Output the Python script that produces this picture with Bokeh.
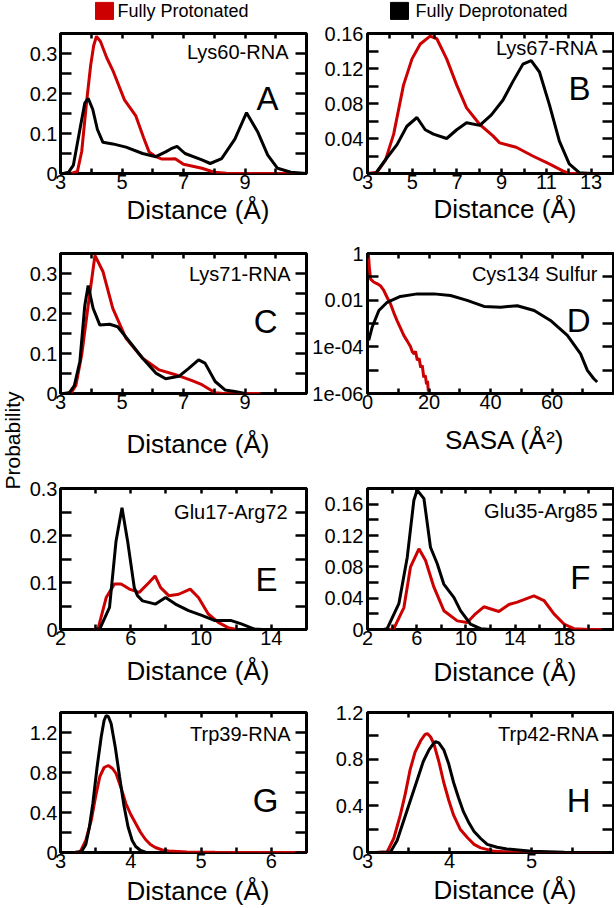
import math
from bokeh.plotting import figure
from bokeh.layouts import row, column
from bokeh.models import Range1d, FixedTicker, LinearAxis, LogAxis, Label, CustomLabelingPolicy
from bokeh.core.properties import value
from bokeh.embed import file_html
from bokeh.resources import INLINE

FONT = "Liberation Sans"
RED = "#cc0000"
BLACK = "#000000"

legend_labels = ["Fully Protonated", "Fully Deprotonated"]
y_title = "Probability"

# ---------------- data ----------------
# A  Lys60-RNA
a_red_x = [3.35, 3.55, 3.69, 3.85, 3.98, 4.08, 4.17, 4.3, 4.5, 4.7, 5.08, 5.45, 5.7, 5.88, 6.1, 6.3, 6.53, 6.73, 7.0, 7.3, 7.6, 8.0, 8.4, 9.0, 11.0]
a_red_y = [0.0, 0.005, 0.055, 0.18, 0.27, 0.32, 0.343, 0.33, 0.29, 0.258, 0.184, 0.144, 0.09, 0.054, 0.042, 0.036, 0.036, 0.037, 0.023, 0.018, 0.013, 0.003, 0.0005, 0.0, 0.0]
a_blk_x = [3.1, 3.26, 3.42, 3.63, 3.79, 3.9, 4.05, 4.2, 4.38, 4.7, 5.13, 5.67, 6.1, 6.42, 6.6, 6.79, 7.05, 7.6, 7.87, 8.24, 8.67, 9.05, 9.42, 9.74, 10.06, 10.49, 11.0]
a_blk_y = [0.0, 0.003, 0.021, 0.11, 0.176, 0.188, 0.16, 0.11, 0.078, 0.074, 0.066, 0.05, 0.042, 0.054, 0.062, 0.068, 0.05, 0.034, 0.025, 0.037, 0.086, 0.152, 0.103, 0.046, 0.013, 0.003, 0.0]

# B  Lys67-RNA
b_red_x = [3.0, 3.43, 3.8, 4.17, 4.61, 4.99, 5.36, 5.8, 6.1, 6.54, 6.99, 7.43, 8.02, 8.61, 8.91, 9.65, 10.39, 11.13, 11.73, 12.0, 14.0]
b_red_y = [0.0, 0.0015, 0.015, 0.045, 0.101, 0.131, 0.148, 0.157, 0.154, 0.131, 0.101, 0.075, 0.056, 0.043, 0.035, 0.030, 0.020, 0.011, 0.003, 0.0, 0.0]
b_blk_x = [3.0, 3.36, 3.87, 4.32, 4.76, 5.21, 5.58, 5.95, 6.54, 6.99, 7.43, 8.02, 8.54, 9.06, 9.5, 9.95, 10.32, 10.69, 11.13, 11.58, 12.02, 12.47, 13.0, 14.0]
b_blk_y = [0.0, 0.0, 0.018, 0.033, 0.054, 0.064, 0.050, 0.045, 0.040, 0.050, 0.058, 0.055, 0.067, 0.084, 0.105, 0.125, 0.129, 0.116, 0.079, 0.037, 0.011, 0.001, 0.0, 0.0]

# C  Lys71-RNA
c_red_x = [3.2, 3.36, 3.5, 3.69, 3.9, 4.12, 4.38, 4.7, 5.13, 5.67, 6.21, 6.74, 7.28, 7.6, 8.03, 8.3, 9.5]
c_red_y = [0.0, 0.003, 0.02, 0.097, 0.22, 0.345, 0.305, 0.213, 0.138, 0.088, 0.059, 0.047, 0.032, 0.022, 0.002, 0.0, 0.0]
c_blk_x = [3.1, 3.29, 3.45, 3.63, 3.79, 3.9, 4.06, 4.28, 4.6, 4.86, 5.24, 5.67, 6.1, 6.42, 6.85, 7.17, 7.49, 7.7, 8.03, 8.35, 8.67, 9.0]
c_blk_y = [0.0, 0.002, 0.02, 0.08, 0.22, 0.27, 0.213, 0.171, 0.173, 0.167, 0.13, 0.088, 0.051, 0.037, 0.043, 0.063, 0.084, 0.076, 0.03, 0.009, 0.005, 0.0]

# D  Cys134 Sulfur (SASA, log probability)
d_red_x = [0.3, 0.6, 1.0, 2.0, 3.2, 4.3, 5.3, 6.4, 7.5, 8.6, 9.65, 10.7, 11.8, 12.9, 14.0, 14.6, 15.2, 15.6, 16.2, 16.8, 17.3, 17.8, 18.3, 18.8, 19.2, 19.5, 19.8]
d_red_y = [0.9, 0.25, 0.08, 0.06, 0.05, 0.04, 0.026, 0.013, 0.0069, 0.0028, 0.0013, 6.5e-4, 3.1e-4, 1.8e-4, 1.0e-4, 6e-5, 5e-5, 6.5e-5, 2.7e-5, 3.2e-5, 1.3e-5, 1.6e-5, 5e-6, 6e-6, 2.5e-6, 3.5e-6, 1.2e-6]
d_blk_x = [0.4, 1.5, 3.7, 6.4, 10.7, 16.2, 21.6, 27.0, 32.4, 37.9, 43.3, 48.7, 54.2, 59.5, 65.0, 69.3, 71.5, 73.6, 74.7]
d_blk_y = [1.9e-4, 6.9e-4, 3.6e-3, 8.1e-3, 0.0145, 0.0186, 0.0186, 0.0158, 0.0098, 0.0054, 0.0050, 0.0058, 0.0036, 0.00135, 3.1e-4, 5e-5, 9.8e-6, 4.3e-6, 3.1e-6]

# E  Glu17-Arg72
e_red_x = [3.9, 4.14, 4.6, 5.07, 5.45, 5.92, 6.48, 7.04, 7.38, 7.7, 8.16, 8.73, 9.38, 9.85, 10.41, 10.98, 11.54, 12.0]
e_red_y = [0.0, 0.002, 0.068, 0.097, 0.097, 0.086, 0.079, 0.1, 0.114, 0.089, 0.072, 0.075, 0.086, 0.068, 0.033, 0.015, 0.004, 0.0]
e_blk_x = [4.0, 4.23, 4.79, 5.16, 5.5, 5.82, 6.2, 6.38, 6.67, 7.41, 7.98, 8.54, 9.29, 10.04, 10.79, 11.72, 12.29, 13.03, 13.5]
e_blk_y = [0.0, 0.001, 0.047, 0.188, 0.259, 0.188, 0.089, 0.072, 0.061, 0.054, 0.068, 0.054, 0.040, 0.030, 0.019, 0.019, 0.012, 0.001, 0.0]

# F  Glu35-Arg85
f_red_x = [3.8, 4.14, 4.96, 5.5, 6.18, 6.72, 7.4, 8.21, 9.3, 10.11, 10.78, 11.46, 12.68, 13.5, 14.18, 15.53, 16.35, 17.16, 17.97, 18.78, 20.0, 21.0]
f_red_y = [0.0, 0.001, 0.028, 0.080, 0.103, 0.088, 0.054, 0.024, 0.011, 0.009, 0.020, 0.029, 0.023, 0.032, 0.035, 0.043, 0.037, 0.020, 0.007, 0.001, 0.0, 0.0]
f_blk_x = [3.3, 3.6, 4.55, 5.23, 5.77, 6.04, 6.59, 7.12, 7.67, 8.2, 9.02, 9.56, 10.37, 11.19, 12.0]
f_blk_y = [0.0, 0.001, 0.033, 0.092, 0.165, 0.178, 0.167, 0.105, 0.084, 0.058, 0.041, 0.024, 0.007, 0.001, 0.0]

# G  Trp39-RNA
g_red_x = [3.2, 3.28, 3.36, 3.44, 3.5, 3.56, 3.62, 3.68, 3.74, 3.79, 3.86, 3.93, 4.0, 4.07, 4.14, 4.21, 4.28, 4.35, 4.45, 4.54, 4.8, 5.2, 6.5]
g_red_y = [0.0, 0.005, 0.12, 0.33, 0.56, 0.76, 0.85, 0.87, 0.84, 0.79, 0.65, 0.49, 0.38, 0.29, 0.2, 0.13, 0.08, 0.05, 0.025, 0.015, 0.006, 0.002, 0.0]
g_blk_x = [3.2, 3.3, 3.36, 3.41, 3.46, 3.52, 3.58, 3.62, 3.65, 3.68, 3.72, 3.78, 3.84, 3.9, 3.96, 4.02, 4.07, 4.14, 4.21, 4.5]
g_blk_y = [0.0, 0.01, 0.08, 0.25, 0.49, 0.85, 1.16, 1.32, 1.37, 1.36, 1.29, 1.05, 0.76, 0.48, 0.26, 0.12, 0.06, 0.02, 0.003, 0.0]

# H  Trp42-RNA
h_red_x = [3.1, 3.24, 3.32, 3.4, 3.46, 3.52, 3.58, 3.65, 3.7, 3.73, 3.77, 3.81, 3.87, 3.93, 3.99, 4.05, 4.13, 4.22, 4.3, 4.38, 4.55, 4.8, 5.2, 6.0]
h_red_y = [0.0, 0.005, 0.12, 0.32, 0.5, 0.71, 0.86, 0.96, 1.01, 1.02, 0.99, 0.93, 0.78, 0.6, 0.45, 0.32, 0.2, 0.126, 0.07, 0.04, 0.01, 0.003, 0.001, 0.0]
h_blk_x = [3.1, 3.28, 3.36, 3.44, 3.52, 3.61, 3.68, 3.75, 3.8, 3.83, 3.87, 3.93, 3.99, 4.05, 4.11, 4.17, 4.24, 4.3, 4.38, 4.46, 4.58, 4.7, 5.0, 5.4, 6.0]
h_blk_y = [0.0, 0.005, 0.1, 0.27, 0.44, 0.63, 0.78, 0.88, 0.93, 0.95, 0.94, 0.88, 0.76, 0.6, 0.47, 0.35, 0.25, 0.18, 0.12, 0.07, 0.045, 0.03, 0.01, 0.003, 0.0]

# ticks / labels
a_xticks = [3, 5, 7, 9]; a_xminor = [4, 6, 8, 10]
a_yticks = [0, 0.1, 0.2, 0.3]; a_ylabels = ["0", "0.1", "0.2", "0.3"]; a_yminor = [0.05, 0.15, 0.25, 0.35]
b_xticks = [3, 5, 7, 9, 11, 13]; b_xminor = [4, 6, 8, 10, 12]
b_yticks = [0, 0.04, 0.08, 0.12, 0.16]; b_ylabels = ["0", "0.04", "0.08", "0.12", "0.16"]; b_yminor = [0.02, 0.06, 0.10, 0.14]
d_xticks = [0, 20, 40, 60]; d_xminor = [10, 30, 50, 70]
d_yticks = [1e-6, 1e-4, 1e-2, 1.0]; d_ylabels = ["1e-06", "1e-04", "0.01", "1"]; d_yminor = [1e-5, 1e-3, 1e-1]
e_xticks = [2, 6, 10, 14]; e_xminor = [4, 8, 12]
e_yticks = [0, 0.1, 0.2, 0.3]; e_ylabels = ["0", "0.1", "0.2", "0.3"]; e_yminor = [0.05, 0.15, 0.25]
f_xticks = [2, 6, 10, 14, 18]; f_xminor = [4, 8, 12, 16, 20]
f_yticks = [0, 0.04, 0.08, 0.12, 0.16]; f_ylabels = ["0", "0.04", "0.08", "0.12", "0.16"]; f_yminor = [0.02, 0.06, 0.10, 0.14]
g_xticks = [3, 4, 5, 6]; g_xminor = [3.5, 4.5, 5.5]
g_yticks = [0, 0.4, 0.8, 1.2]; g_ylabels = ["0", "0.4", "0.8", "1.2"]; g_yminor = [0.2, 0.6, 1.0]
h_xticks = [3, 4, 5]; h_xminor = [3.5, 4.5, 5.5]

PAD = "\u00a0" * 4
DIST = PAD + "Distance (Å)"
SASA = PAD + "SASA (Å²)"


def style_axis(ax, tick_len, standoff):
    ax.axis_line_color = None
    ax.major_tick_in = tick_len
    ax.major_tick_out = 0
    ax.minor_tick_in = tick_len
    ax.minor_tick_out = 0
    ax.major_tick_line_width = 2.5
    ax.minor_tick_line_width = 2.5
    ax.major_tick_line_color = BLACK
    ax.minor_tick_line_color = BLACK
    ax.major_label_text_font = FONT
    ax.major_label_text_font_size = "20px"
    ax.major_label_text_color = BLACK
    ax.major_label_standoff = standoff


def panel(w, h, bl, br, bt, bb, xr, yr, xt, xm, yt, ylab, ym, red, blk,
          name, letter, title, name_off, letter_off, title_standoff, log=False, ystand=4):
    p = figure(width=w, height=h, x_range=Range1d(*xr), y_range=Range1d(*yr),
               y_axis_type="log" if log else "linear", title=None,
               output_backend="svg", toolbar_location=None,
               min_border_left=bl, min_border_right=br,
               min_border_top=bt, min_border_bottom=bb)
    p.xgrid.visible = False
    p.ygrid.visible = False
    p.background_fill_color = "white"
    p.border_fill_color = "white"
    p.outline_line_color = BLACK
    p.outline_line_width = 3
    xtick = FixedTicker(ticks=xt, minor_ticks=xm)
    ytick = FixedTicker(ticks=yt, minor_ticks=ym)
    xa = p.xaxis[0]
    xa.ticker = xtick
    style_axis(xa, 5, 1)
    xa.major_label_overrides = {t: str(t) for t in xt}
    xa.axis_label = title
    xa.axis_label_text_font = FONT
    xa.axis_label_text_font_size = "26px"
    xa.axis_label_text_font_style = "normal"
    xa.axis_label_text_color = BLACK
    xa.axis_label_standoff = title_standoff
    ya = p.yaxis[0]
    ya.ticker = ytick
    style_axis(ya, 11, ystand)
    ya.major_label_overrides = dict(zip(yt, ylab))

    top = LinearAxis(ticker=xtick)
    style_axis(top, 5, 0)
    top.major_label_overrides = {t: "" for t in xt}
    top.major_label_orientation = "vertical"
    top.major_label_policy = CustomLabelingPolicy(code="return []")
    p.add_layout(top, "above")
    right = LogAxis(ticker=ytick) if log else LinearAxis(ticker=ytick)
    style_axis(right, 11, 0)
    right.major_label_overrides = {t: "" for t in yt}
    right.major_label_policy = CustomLabelingPolicy(code="return []")
    p.add_layout(right, "right")

    p.line(red[0], red[1], line_color=RED, line_width=3)
    p.line(blk[0], blk[1], line_color=BLACK, line_width=3)

    p.add_layout(Label(x=xr[1], y=yr[1], x_offset=name_off[0], y_offset=name_off[1],
                       text=name, text_align="right", text_baseline="middle",
                       text_font=FONT, text_font_size="20px", text_color=BLACK))
    p.add_layout(Label(x=xr[1], y=yr[1], x_offset=letter_off[0], y_offset=letter_off[1],
                       text=letter, text_align="right", text_baseline="middle",
                       text_font=FONT, text_font_size="33px", text_color=BLACK))
    return p


PT_W = 26
LW, RW = 282, 306
LB = 31
LEG_H = 21

pA = panel(LW, 211, LB, 2, 8, 59, (3, 11), (0, 0.35), a_xticks, a_xminor, a_yticks, a_ylabels, a_yminor,
           (a_red_x, a_red_y), (a_blk_x, a_blk_y), "Lys60-RNA", "A", DIST, (-18, -18), (-28, -65), 3, ystand=3)
pB = panel(RW, 211, 59, 1, 12, 59, (3, 14), (0, 0.16), b_xticks, b_xminor, b_yticks, b_ylabels, b_yminor,
           (b_red_x, b_red_y), (b_blk_x, b_blk_y), "Lys67-RNA", "B", DIST, (-16, -14), (-23, -55), 2)
pC = panel(LW, 233, LB, 2, 20, 72, (3, 11), (0, 0.35), a_xticks, a_xminor, a_yticks, a_ylabels, a_yminor,
           (c_red_x, c_red_y), (c_blk_x, c_blk_y), "Lys71-RNA", "C", DIST, (-16, -20), (-29, -68), 17, ystand=3)
pD = panel(RW, 233, 59, 1, 21, 70, (0, 80), (1e-6, 1.0), d_xticks, d_xminor, d_yticks, d_ylabels, d_yminor,
           (d_red_x, d_red_y), (d_blk_x, d_blk_y), "Cys134 Sulfur", "D", SASA, (-16, -20), (-23, -67), 13,
           log=True)
pE = panel(LW, 230, LB, 2, 22, 65, (2, 16), (0, 0.3), e_xticks, e_xminor, e_yticks, e_ylabels, e_yminor,
           (e_red_x, e_red_y), (e_blk_x, e_blk_y), "Glu17-Arg72", "E", DIST, (-19, -23), (-29, -91), 8, ystand=3)
pF = panel(RW, 230, 59, 1, 23, 66, (2, 22), (0, 0.18), f_xticks, f_xminor, f_yticks, f_ylabels, f_yminor,
           (f_red_x, f_red_y), (f_blk_x, f_blk_y), "Glu35-Arg85", "F", DIST, (-16, -22), (-23, -89), 9)
pG = panel(LW, 213, LB, 2, 17, 54, (3, 6.5), (0, 1.4), g_xticks, g_xminor, g_yticks, g_ylabels, g_yminor,
           (g_red_x, g_red_y), (g_blk_x, g_blk_y), "Trp39-RNA", "G", DIST, (-16, -21), (-28, -88), 5, ystand=3)
pH = panel(RW, 213, 59, 1, 17, 53, (3, 6), (0, 1.2), h_xticks, h_xminor, g_yticks, g_ylabels, g_yminor,
           (h_red_x, h_red_y), (h_blk_x, h_blk_y), "Trp42-RNA", "H", DIST, (-15, -21), (-23, -88), 4)

# legend strip (page x starts at PT_W)
LEG_W = LW + RW
lg = figure(width=LEG_W, height=LEG_H, x_range=Range1d(0, LEG_W), y_range=Range1d(0, LEG_H), title=None,
            output_backend="svg", toolbar_location=None, x_axis_location=None, y_axis_location=None,
            min_border=0)
lg.grid.visible = False
lg.outline_line_color = None
leg_cy = LEG_H - 10.4
lg.rect(x=[104 - PT_W, 399 - PT_W], y=[leg_cy, leg_cy], width=18, height=17,
        fill_color=[RED, BLACK], line_color=[RED, BLACK])
lg.text(x=[117 - PT_W, 415 - PT_W], y=[leg_cy, leg_cy], text=legend_labels, text_font=value(FONT),
        text_font_size="18px", text_baseline="middle", text_align="left", text_color=BLACK)

# y title strip
TOTAL_H = 908
pt = figure(width=PT_W, height=TOTAL_H, x_range=Range1d(0, PT_W), y_range=Range1d(0, TOTAL_H), title=None,
            output_backend="svg", toolbar_location=None, x_axis_location=None, y_axis_location=None,
            min_border=0)
pt.grid.visible = False
pt.outline_line_color = None
pt.text(x=[12], y=[TOTAL_H - 440], text=[y_title], angle=math.pi / 2, text_font=value(FONT),
        text_font_size="21px", text_align="center", text_baseline="middle", text_color=BLACK)

body = column(lg, row(pA, pB), row(pC, pD), row(pE, pF), row(pG, pH))
root = row(pt, body)

open("out.html", "w").write(file_html(root, INLINE))
